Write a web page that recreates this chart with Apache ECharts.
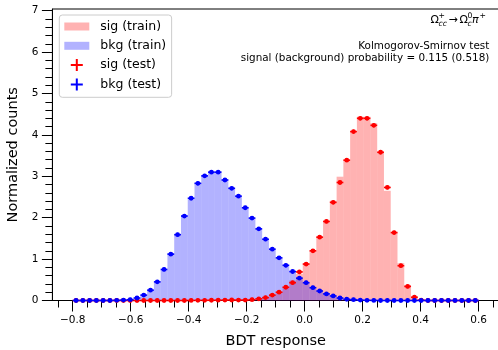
<!DOCTYPE html>
<html><head><meta charset="utf-8">
<script src="https://cdn.jsdelivr.net/npm/echarts@6/dist/echarts.min.js"></script>
<style>html,body{margin:0;padding:0;background:#fff}#c{width:498px;height:350px}</style>
</head><body><div id="c"></div>
<script>
// ---- data ----
const binLow = -0.8, binHigh = 0.6, nBins = 60;
const xTickLabels = [-0.8, -0.6, -0.4, -0.2, 0.0, 0.2, 0.4, 0.6];
const xMinorTicks = [-0.85,-0.8,-0.75,-0.7,-0.65,-0.6,-0.55,-0.5,-0.45,-0.4,-0.35,-0.3,-0.25,-0.2,-0.15,-0.1,-0.05,0,0.05,0.1,0.15,0.2,0.25,0.3,0.35,0.4,0.45,0.5,0.55,0.6,0.65];
const yTickLabels = [0, 1, 2, 3, 4, 5, 6, 7];
const yMinorTicks = [0,0.2,0.4,0.6,0.8,1,1.2,1.4,1.6,1.8,2,2.2,2.4,2.6,2.8,3,3.2,3.4,3.6,3.8,4,4.2,4.4,4.6,4.8,5,5.2,5.4,5.6,5.8,6,6.2,6.4,6.6,6.8,7];
const sigTrain = [0,0,0,0,0,0,0,0,0,0, 0,0,0,0,0,0,0,0.002,0.003,0.004, 0.006,0.008,0.01,0.012,0.015,0.02,0.03,0.05,0.08,0.13, 0.21,0.31,0.48,0.64,0.90,1.20,1.54,1.92,2.41,2.99, 3.39,4.08,4.44,4.44,4.28,3.59,2.65,1.66,0.90,0.37, 0.09,0.01,0,0,0,0,0,0,0,0];
const sigTest  = [0,0,0,0,0,0,0,0,0,0, 0,0,0,0,0,0,0,0.002,0.004,0.005, 0.006,0.008,0.01,0.012,0.01,0.01,0.02,0.04,0.07,0.13, 0.20,0.32,0.43,0.69,0.88,1.20,1.53,1.91,2.37,2.85, 3.39,4.08,4.40,4.40,4.23,3.58,2.73,1.64,0.84,0.34, 0.08,0.01,0,0,0,0,0,0,0,0];
const bkgTrain = [0,0,0,0,0,0,0.003,0.01,0.02,0.05, 0.12,0.24,0.44,0.74,1.14,1.58,2.05,2.46,2.84,3.02, 3.09,3.08,2.93,2.72,2.50,2.25,1.98,1.74,1.47,1.23, 1.02,0.84,0.69,0.55,0.42,0.32,0.23,0.16,0.10,0.06, 0.04,0.02,0.01,0.005,0.003,0,0,0,0,0, 0,0,0,0,0,0,0,0,0,0];
const bkgTest  = [0,0,0,0,0,0,0.004,0.01,0.02,0.06, 0.13,0.25,0.45,0.75,1.12,1.59,2.04,2.47,2.83,3.01, 3.10,3.10,2.91,2.71,2.52,2.24,1.99,1.73,1.48,1.24, 1.03,0.85,0.70,0.54,0.43,0.31,0.23,0.16,0.11,0.06, 0.03,0.02,0.01,0.005,0.003,0,0,0,0,0, 0,0,0,0,0,0,0,0,0,0];

// ---- chart ----
const binW = (binHigh - binLow) / nBins;
function histData(vals){ return vals.map((v,i)=>[binLow+i*binW, binLow+(i+1)*binW, v]); }
function pointData(vals){ return vals.map((v,i)=>[binLow+(i+0.5)*binW, v, binW/2]); }
function histRender(color){
  return function(params, api){
    const p0 = api.coord([api.value(0), api.value(2)]);
    const p1 = api.coord([api.value(1), 0]);
    return {type:'rect', shape:{x:p0[0], y:p0[1], width:p1[0]-p0[0], height:p1[1]-p0[1]}, style:{fill:color}};
  };
}
function errRender(color){
  return function(params, api){
    const x = api.value(0), y = api.value(1), hw = api.value(2);
    const c = api.coord([x,y]), l = api.coord([x-hw,y]), r = api.coord([x+hw,y]);
    const t = api.coord([x, y+0.045]), b = api.coord([x, Math.max(0, y-0.045)]);
    return {type:'group', children:[
      {type:'line', shape:{x1:l[0],y1:c[1],x2:r[0],y2:c[1]}, style:{stroke:color, lineWidth:1.6}},
      {type:'line', shape:{x1:c[0],y1:t[1],x2:c[0],y2:b[1]}, style:{stroke:color, lineWidth:1.6}},
      {type:'circle', shape:{cx:c[0],cy:c[1],r:2.4}, style:{fill:color}}
    ]};
  };
}
const FONT = 'DejaVu Sans';
const rectIcon = 'path://M0,0h25v8h-25z';
const crossIcon = 'path://M5,0h2v5h5v2h-5v5h-2v-5h-5v-2h5z';
const sigFill = 'rgba(255,0,0,0.3)', bkgFill = 'rgba(0,0,255,0.3)';

const chart = echarts.init(document.getElementById('c'), null, {renderer:'canvas', width:498, height:350});
const fmt = v => (v < 0 ? '\u2212' : '') + Math.abs(v).toFixed(1);
function txt(x, y, s, size, italic){
  return {type:'text', x:x, y:y, style:{text:s, fontSize:size, fontFamily:FONT, fontStyle: italic ? 'italic' : 'normal', fill:'#000', align:'left', verticalAlign:'middle'}};
}
chart.setOption({
  animation:false,
  grid:{left:52.4, top:9, width:446.6, height:291.5, show:true, borderColor:'#000', borderWidth:1, backgroundColor:'#fff', containLabel:false, outerBoundsMode:'none'},
  xAxis:[{
    type:'value', min:-0.87, max:0.67, position:'bottom',
    axisLine:{show:true, onZero:false, lineStyle:{color:'#000', width:1}},
    axisTick:{show:true, inside:false, length:11, customValues:xTickLabels, lineStyle:{color:'#000', width:1}},
    axisLabel:{customValues:xTickLabels, formatter:fmt, margin:14, fontSize:10.5, fontFamily:FONT, color:'#000'},
    splitLine:{show:false},
    name:'BDT response', nameLocation:'middle', nameGap:33,
    nameTextStyle:{fontSize:14.5, fontFamily:FONT, color:'#000'}
  },{
    type:'value', min:-0.87, max:0.67, position:'bottom',
    axisLine:{show:false, onZero:false},
    axisTick:{show:true, inside:false, length:7, customValues:xMinorTicks, lineStyle:{color:'#000', width:1}},
    axisLabel:{show:false}, splitLine:{show:false}
  }],
  yAxis:[{
    type:'value', min:0, max:7.04, position:'left',
    axisLine:{show:true, onZero:false, lineStyle:{color:'#000', width:1}},
    axisTick:{show:true, inside:false, length:10.5, customValues:yTickLabels, lineStyle:{color:'#000', width:1}},
    axisLabel:{customValues:yTickLabels, margin:14, fontSize:10.5, fontFamily:FONT, color:'#000'},
    splitLine:{show:false},
    name:'Normalized counts', nameLocation:'middle', nameGap:28.5, nameRotate:90,
    nameTextStyle:{fontSize:14.5, fontFamily:FONT, color:'#000'}
  },{
    type:'value', min:0, max:7.04, position:'left',
    axisLine:{show:false, onZero:false},
    axisTick:{show:true, inside:false, length:7, customValues:yMinorTicks, lineStyle:{color:'#000', width:1}},
    axisLabel:{show:false}, splitLine:{show:false}
  }],
  legend:{
    orient:'vertical', left:59.3, top:15, padding:[5,5.4,6.4,5], itemWidth:25, itemHeight:12, itemGap:6.3,
    backgroundColor:'rgba(255,255,255,0.8)', borderColor:'#cccccc', borderWidth:1, borderRadius:3,
    selectedMode:false, itemStyle:{borderWidth:0},
    textStyle:{fontSize:12.5, fontFamily:FONT, color:'#000', padding:[0,0,0,6]},
    data:[
      {name:'sig (train)', icon:rectIcon, itemStyle:{color:sigFill}},
      {name:'bkg (train)', icon:rectIcon, itemStyle:{color:bkgFill}},
      {name:'sig (test)', icon:crossIcon, itemStyle:{color:'#ff0000'}},
      {name:'bkg (test)', icon:crossIcon, itemStyle:{color:'#0000ff'}}
    ]
  },
  graphic:[
    txt(430.5, 20.5, '\u03A9', 11),
    txt(438.5, 16.5, '+', 7.7),
    txt(438.5, 24.5, 'cc', 7.7, true),
    txt(448.5, 20.5, '\u2192', 11),
    txt(459.5, 20.5, '\u03A9', 11),
    txt(467.5, 16.5, '0', 7.7),
    txt(467.5, 24.5, 'c', 7.7, true),
    txt(472, 20.5, '\u03C0', 11, true),
    txt(479.5, 16, '+', 7.7),
    {type:'text', x:489.3, y:46, style:{text:'Kolmogorov-Smirnov test', fontSize:10.4, fontFamily:FONT, fill:'#000', align:'right', verticalAlign:'middle'}},
    {type:'text', x:489.3, y:58.5, style:{text:'signal (background) probability = 0.115 (0.518)', fontSize:10.4, fontFamily:FONT, fill:'#000', align:'right', verticalAlign:'middle'}}
  ],
  series:[
    {name:'sig (train)', type:'custom', xAxisIndex:0, yAxisIndex:0, renderItem:histRender(sigFill), itemStyle:{color:sigFill}, encode:{x:[0,1], y:2}, data:histData(sigTrain)},
    {name:'bkg (train)', type:'custom', xAxisIndex:0, yAxisIndex:0, renderItem:histRender(bkgFill), itemStyle:{color:bkgFill}, encode:{x:[0,1], y:2}, data:histData(bkgTrain)},
    {name:'sig (test)', type:'custom', xAxisIndex:0, yAxisIndex:0, renderItem:errRender('#ff0000'), itemStyle:{color:'#ff0000'}, encode:{x:0, y:1}, data:pointData(sigTest)},
    {name:'bkg (test)', type:'custom', xAxisIndex:0, yAxisIndex:0, renderItem:errRender('#0000ff'), itemStyle:{color:'#0000ff'}, encode:{x:0, y:1}, data:pointData(bkgTest)}
  ]
});
</script></body></html>
